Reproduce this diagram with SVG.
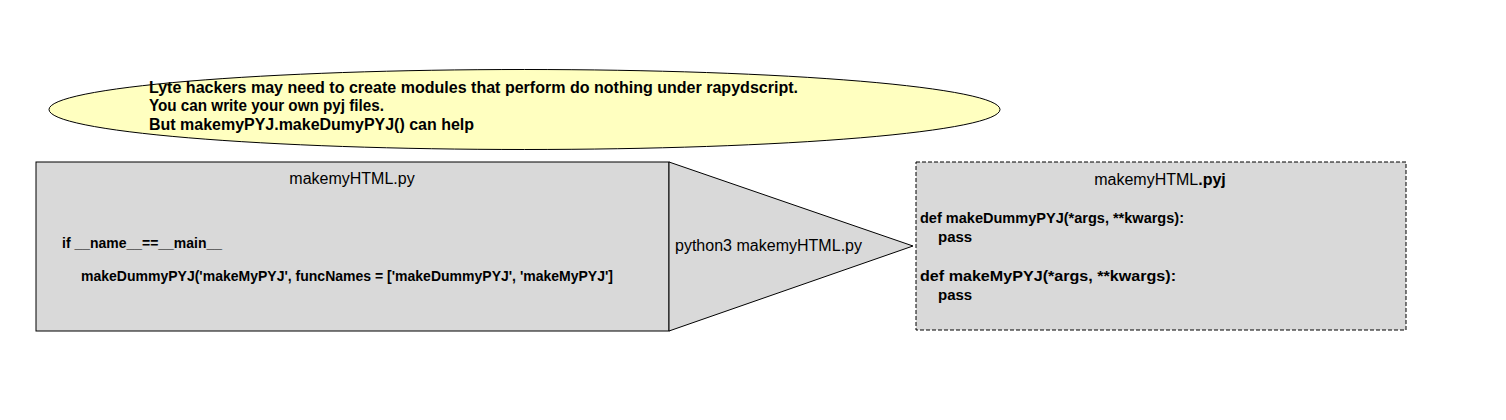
<svg xmlns="http://www.w3.org/2000/svg" width="1506" height="420" viewBox="0 0 1506 420">
<style>
.shape{fill:#d9d9d9;stroke:#000;stroke-width:1}
.t{font-family:"Liberation Sans",Arial,sans-serif;fill:#000}
.b{font-weight:bold}
</style>
<rect width="1506" height="420" fill="#fff"/>
<g id="note">
<ellipse cx="524.5" cy="109.5" rx="475.5" ry="40" fill="#ffffc0" stroke="#000" stroke-width="1"/>
<text class="t b" font-size="16" x="149" y="93" textLength="649" lengthAdjust="spacingAndGlyphs">Lyte hackers may need to create modules that perform do nothing under rapydscript.</text>
<text class="t b" font-size="16" x="149" y="111" textLength="235" lengthAdjust="spacingAndGlyphs">You can write your own pyj files.</text>
<text class="t b" font-size="16" x="149" y="130" textLength="325" lengthAdjust="spacingAndGlyphs">But makemyPYJ.makeDumyPYJ() can help</text>
</g>
<g id="source">
<rect class="shape" x="36" y="162" width="633" height="169"/>
<text class="t" font-size="16" x="352" y="184" text-anchor="middle">makemyHTML.py</text>
<text class="t b" font-size="14" x="62" y="248" textLength="160" lengthAdjust="spacingAndGlyphs">if __name__==__main__</text>
<text class="t b" font-size="14" x="81" y="281" textLength="532" lengthAdjust="spacingAndGlyphs">makeDummyPYJ('makeMyPYJ', funcNames = ['makeDummyPYJ', 'makeMyPYJ']</text>
</g>
<g id="connectors">
<g id="process">
<polygon class="shape" points="669,162 913,246 669,331"/>
<text class="t" font-size="16" x="675" y="251" textLength="187" lengthAdjust="spacingAndGlyphs">python3 makemyHTML.py</text>
</g>
</g>
<g id="output">
<rect class="shape" x="916" y="162" width="490" height="168" stroke-dasharray="4,2"/>
<text class="t" font-size="16" x="1160" y="185" text-anchor="middle">makemyHTML<tspan class="b">.pyj</tspan></text>
<text class="t b" font-size="15" x="920" y="223" textLength="264" lengthAdjust="spacingAndGlyphs">def makeDummyPYJ(*args, **kwargs):</text>
<text class="t b" font-size="15" x="938" y="242">pass</text>
<text class="t b" font-size="15" x="920" y="281" textLength="256" lengthAdjust="spacingAndGlyphs">def makeMyPYJ(*args, **kwargs):</text>
<text class="t b" font-size="15" x="938" y="300">pass</text>
</g>
</svg>
